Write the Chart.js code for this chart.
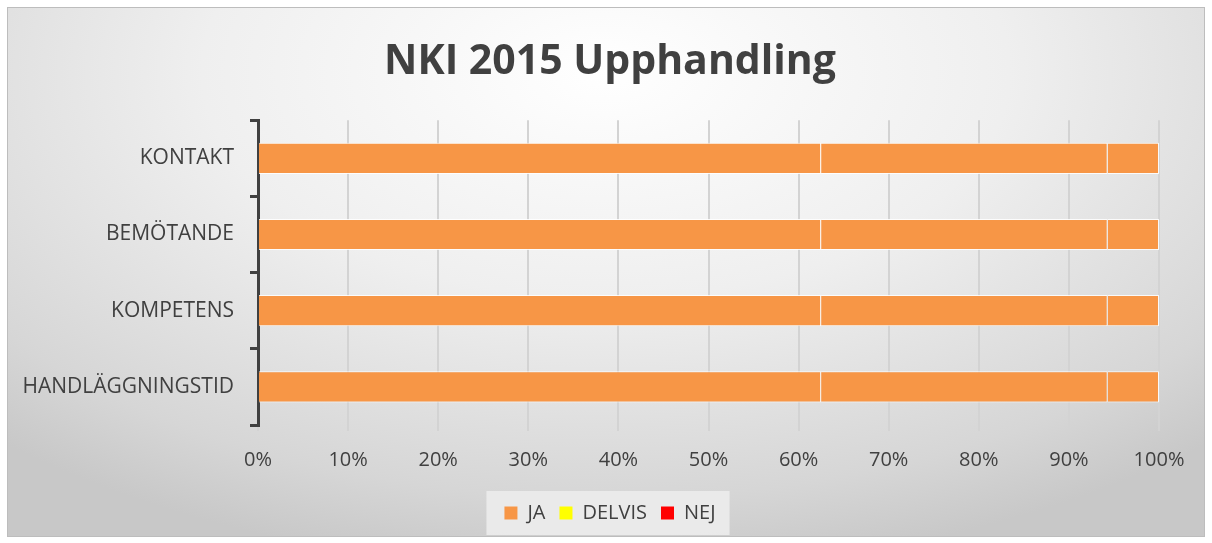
<!DOCTYPE html>
<html>
<head>
<meta charset="utf-8">
<script src="https://cdn.jsdelivr.net/npm/chart.js@4"></script>
<style>
  html, body { margin: 0; padding: 0; background: #fff; }
  #frame {
    position: absolute; left: 7px; top: 7px; width: 1196px; height: 528px;
    border: 1px solid #bdbdbd;
    background: radial-gradient(ellipse 75% 95% at 50% 12%, #ffffff 0%, #efefef 45%, #d6d6d6 85%, #c8c8c8 100%);
  }
  #wrap { position: absolute; left: 0; top: 0; width: 1212px; height: 543px; }
</style>
</head>
<body>
<div id="frame"></div>
<div id="wrap"><canvas id="chart"></canvas></div>
<script>
// ---- Data ----
const categories = ['KONTAKT', 'BEMÖTANDE', 'KOMPETENS', 'HANDLÄGGNINGSTID'];
const seriesNames = ['JA', 'DELVIS', 'NEJ'];
const jaValues     = [62.5, 62.5, 62.5, 62.5];
const delvisValues = [31.8, 31.8, 31.8, 31.8];
const nejValues    = [5.7, 5.7, 5.7, 5.7];
const xTicks = [0, 10, 20, 30, 40, 50, 60, 70, 80, 90, 100];

// bars are all drawn orange in the source; legend keeps the series colours
const barColors    = ['#f79646', '#f79646', '#f79646'];
const legendColors = ['#f79646', '#ffff00', '#ff0000'];

const txt = '#404040';
const font = "'Open Sans', sans-serif";

// title and legend are centred on the whole picture, not on the padded chart
const recentre = {
  id: 'recentre',
  afterLayout(chart) {
    const w = 1220;
    if (chart.titleBlock) { chart.titleBlock.left = 0; chart.titleBlock.right = w; chart.titleBlock.width = w; }
    if (chart.legend) { chart.legend.left = 0; chart.legend.right = w; chart.legend.width = w; }
  }
};

// light box behind the legend items
const legendBox = {
  id: 'legendBox',
  beforeDraw(chart) {
    const l = chart.legend;
    if (!l || !l.legendHitBoxes || !l.legendHitBoxes.length) return;
    const hb = l.legendHitBoxes;
    const x0 = Math.min(...hb.map(b => b.left)) - 18;
    const x1 = Math.max(...hb.map(b => b.left + b.width)) + 14;
    const y0 = Math.min(...hb.map(b => b.top)) - 12;
    const y1 = Math.max(...hb.map(b => b.top + b.height)) + 12;
    const c = chart.ctx;
    c.save();
    c.fillStyle = 'rgba(236,236,236,0.9)';
    c.fillRect(x0, y0, x1 - x0, y1 - y0);
    c.restore();
  }
};

const allSeries = [jaValues, delvisValues, nejValues];

new Chart(document.getElementById('chart'), {
  type: 'bar',
  data: {
    labels: categories,
    datasets: seriesNames.map((name, i) => ({
      label: name,
      data: allSeries[i],
      backgroundColor: barColors[i],
      borderColor: 'rgba(255,255,255,0.85)',
      borderWidth: 1,
      barPercentage: 0.41,
      categoryPercentage: 1
    }))
  },
  options: {
    indexAxis: 'y',
    responsive: true, maintainAspectRatio: false,
    animation: false,
    layout: { padding: { left: 10, right: 53, top: 0, bottom: 10 } },
    plugins: {
      title: {
        display: true, text: 'NKI 2015 Upphandling', color: txt,
        font: { family: font, size: 41, weight: 'bold' },
        padding: { top: 38, bottom: 33 }
      },
      legend: {
        position: 'bottom',
        labels: {
          color: txt, font: { family: font, size: 20 },
          boxWidth: 13, boxHeight: 13, padding: 14,
          generateLabels: (chart) => chart.data.datasets.map((ds, i) => ({
            text: ds.label, fillStyle: legendColors[i], strokeStyle: legendColors[i],
            lineWidth: 0, datasetIndex: i, fontColor: txt
          }))
        }
      },
      tooltip: { enabled: false }
    },
    scales: {
      x: {
        stacked: true, min: 0, max: 100,
        afterBuildTicks: (s) => { s.ticks = xTicks.map(v => ({ value: v })); },
        ticks: { color: txt, font: { family: font, size: 20 }, padding: 17, callback: v => v + '%' },
        grid: { color: '#d3d3d3', lineWidth: 2, tickLength: 6, drawTicks: true },
        border: { display: false }
      },
      y: {
        stacked: true,
        afterFit: (s) => { s.width = 248; },
        ticks: { color: txt, font: { family: font, size: 21 }, padding: 16 },
        grid: { offset: true, drawOnChartArea: false, color: '#404040', lineWidth: 3, tickLength: 8 },
        border: { display: true, color: '#404040', width: 3 }
      }
    }
  },
  plugins: [recentre, legendBox]
});
</script>
</body>
</html>
